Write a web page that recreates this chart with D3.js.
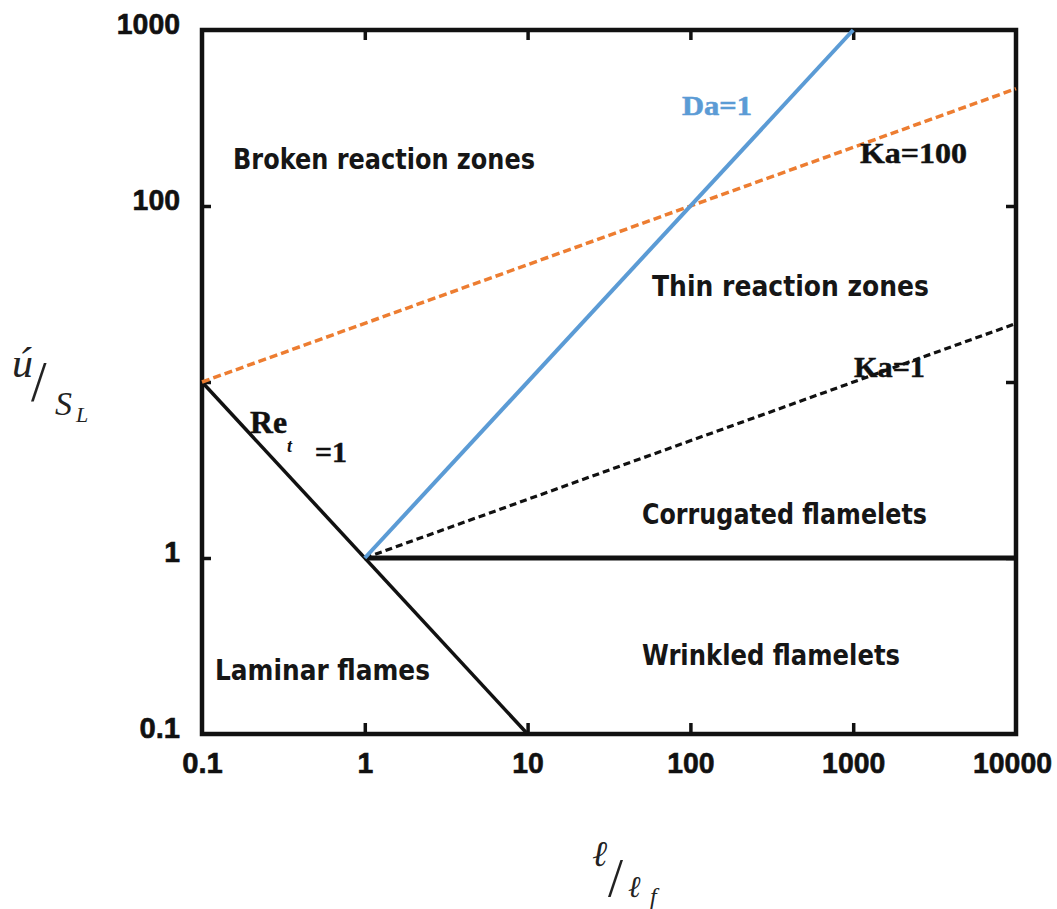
<!DOCTYPE html>
<html>
<head>
<meta charset="utf-8">
<script src="https://cdn.jsdelivr.net/npm/d3@7"></script>
<style>
  html, body { margin: 0; padding: 0; background: #fff; }
  svg { display: block; }
</style>
</head>
<body>
<div id="chart"></div>
<script>
// ---------- data ----------
const xTickValues = [0.1, 1, 10, 100, 1000, 10000];
const xTickLabels = ["0.1", "1", "10", "100", "1000", "10000"];
const yTickValues = [0.1, 1, 10, 100, 1000];
const yTickLabels = ["0.1", "1", "", "100", "1000"];

// boundary lines (l/lf, u'/SL)
const reLine   = { l: [0.1, 10],      u: [10, 0.1] };      // Re_t = 1
const daLine   = { l: [1, 1000],      u: [1, 1000] };      // Da = 1
const ka100Line= { l: [0.1, 10000],   u: [10, 464] };      // Ka = 100
const ka1Line  = { l: [1, 10000],     u: [1, 21.5] };      // Ka = 1
const unityLine= { l: [1, 10000],     u: [1, 1] };         // u'/SL = 1

const regionNames = ["Broken reaction zones", "Thin reaction zones", "Corrugated flamelets", "Wrinkled flamelets", "Laminar flames"];

// ---------- layout ----------
const W = 1057, H = 909;
const svg = d3.select("#chart").append("svg").attr("width", W).attr("height", H);

const x = d3.scaleLog().domain([0.1, 10000]).range([202, 1016]);
const y = d3.scaleLog().domain([0.1, 1000]).range([734, 30]);

const toPts = s => s.l.map((v, i) => [v, s.u[i]]);
const line = d3.line().x(d => x(d[0])).y(d => y(d[1]));

// glyph-width fitting for the condensed bold tick font
const digitW = 15.8, dotW = 9;
const fitW = s => s.split("").reduce((a, c) => a + (c === "." ? dotW : digitW), 0);

// axes (ticks inward)
const inner = [1, 10, 100, 1000];
const gB = svg.append("g").attr("transform", `translate(0,${y(0.1)})`)
  .call(d3.axisBottom(x).tickValues(xTickValues).tickSizeInner(-11).tickSizeOuter(0).tickPadding(18)
    .tickFormat((d, i) => xTickLabels[i]));
gB.selectAll(".tick").filter(d => d === 0.1 || d === 10000).select("line").remove();
const gT = svg.append("g").attr("transform", `translate(0,${y(1000)})`)
  .call(d3.axisTop(x).tickValues(inner).tickSizeInner(-10).tickSizeOuter(0).tickFormat(""));
const gL = svg.append("g").attr("transform", `translate(${x(0.1)},0)`)
  .call(d3.axisLeft(y).tickValues(yTickValues).tickSizeInner(-9).tickSizeOuter(0).tickPadding(22)
    .tickFormat((d, i) => yTickLabels[i]));
gL.selectAll(".tick").filter(d => d === 0.1 || d === 1000).select("line").remove();
const gR = svg.append("g").attr("transform", `translate(${x(10000)},0)`)
  .call(d3.axisRight(y).tickValues([1, 10, 100]).tickSizeInner(-10).tickSizeOuter(0).tickFormat(""));

[gB, gT, gL, gR].forEach(g => {
  g.select(".domain").remove();
  g.selectAll(".tick line").attr("stroke", "#111").attr("stroke-width", 3.5);
  g.selectAll("text").attr("font-family", "'Liberation Sans', Arial, sans-serif")
    .attr("font-weight", "bold").attr("font-size", 30).attr("fill", "#111")
    .attr("stroke", "#111").attr("stroke-width", 0.6)
    .each(function () {
      const s = this.textContent;
      if (s) d3.select(this).attr("textLength", fitW(s)).attr("lengthAdjust", "spacingAndGlyphs");
    });
});
gB.selectAll(".tick").filter(d => d === 10000).select("text").attr("x", -4);
gL.selectAll("text").attr("dy", "0.12em");

// frame
svg.append("rect").attr("x", x(0.1)).attr("y", y(1000))
  .attr("width", x(10000) - x(0.1)).attr("height", y(0.1) - y(1000))
  .attr("fill", "none").attr("stroke", "#111").attr("stroke-width", 4.5);

// lines
svg.append("path").attr("d", line(toPts(unityLine))).attr("fill", "none")
  .attr("stroke", "#111").attr("stroke-width", 5);
svg.append("path").attr("d", line(toPts(reLine))).attr("fill", "none")
  .attr("stroke", "#111").attr("stroke-width", 3.5);
svg.append("path").attr("d", line(toPts(ka1Line))).attr("fill", "none")
  .attr("stroke", "#111").attr("stroke-width", 3.2).attr("stroke-dasharray", "7,4");
svg.append("path").attr("d", line(toPts(ka100Line))).attr("fill", "none")
  .attr("stroke", "#ED7D31").attr("stroke-width", 3.5).attr("stroke-dasharray", "8,4");
svg.append("path").attr("d", line(toPts(daLine))).attr("fill", "none")
  .attr("stroke", "#5B9BD5").attr("stroke-width", 4);

// region labels
const regionLayout = [
  [233, 169, 302], [652, 296, 277], [642, 524, 285], [642, 665, 258], [215, 680, 215]
];
regionNames.forEach((t, i) => {
  const [px, py, w] = regionLayout[i];
  svg.append("text").attr("x", px).attr("y", py).text(t)
    .attr("font-family", "'DejaVu Sans', sans-serif").attr("font-weight", "bold")
    .attr("font-size", 29).attr("fill", "#161616")
    .attr("textLength", w).attr("lengthAdjust", "spacingAndGlyphs");
});

// line labels (serif bold)
const serif = "'Liberation Serif', 'Times New Roman', serif";
const lineLabels = [
  { t: "Da=1", x: 682, y: 115, w: 70, s: 27, c: "#5B9BD5" },
  { t: "Ka=100", x: 860, y: 163, w: 107, s: 30, c: "#111" },
  { t: "Ka=1", x: 854, y: 377, w: 71, s: 30, c: "#111" },
  { t: "Re", x: 250, y: 433, w: 37, s: 31, c: "#111" },
  { t: "=1", x: 315, y: 462, w: 32, s: 30, c: "#111" }
];
lineLabels.forEach(d => {
  svg.append("text").attr("x", d.x).attr("y", d.y).text(d.t)
    .attr("font-family", serif).attr("font-weight", "bold").attr("font-size", d.s)
    .attr("fill", d.c).attr("stroke", d.c).attr("stroke-width", 0.5)
    .attr("textLength", d.w).attr("lengthAdjust", "spacingAndGlyphs");
});
svg.append("text").attr("x", 287).attr("y", 452).text("t")
  .attr("font-family", serif).attr("font-style", "italic").attr("font-weight", "bold")
  .attr("font-size", 18).attr("fill", "#111");

// axis titles
const mathFont = "'DejaVu Serif', 'Liberation Serif', serif";
const yt = svg.append("g").attr("fill", "#222");
yt.append("text").attr("x", 12).attr("y", 377).text("ú")
  .attr("font-family", "'Liberation Serif', serif").attr("font-style", "italic").attr("font-size", 42);
yt.append("text").attr("x", 31).attr("y", 401).text("/")
  .attr("font-family", "'Liberation Serif', serif").attr("font-size", 56);
yt.append("text").attr("x", 55).attr("y", 415).text("S")
  .attr("font-family", "'Liberation Serif', serif").attr("font-style", "italic").attr("font-size", 34);
yt.append("text").attr("x", 76).attr("y", 422).text("L")
  .attr("font-family", "'Liberation Serif', serif").attr("font-style", "italic").attr("font-size", 22);

const xt = svg.append("g").attr("fill", "#222");
xt.append("text").attr("x", 592).attr("y", 866).text("ℓ")
  .attr("font-family", mathFont).attr("font-style", "italic").attr("font-size", 36);
xt.append("text").attr("x", 608).attr("y", 896).text("/")
  .attr("font-family", "'Liberation Serif', serif").attr("font-size", 54);
xt.append("text").attr("x", 628).attr("y", 897).text("ℓ")
  .attr("font-family", mathFont).attr("font-style", "italic").attr("font-size", 30);
xt.append("text").attr("x", 650).attr("y", 904).text("f")
  .attr("font-family", "'Liberation Serif', serif").attr("font-style", "italic").attr("font-size", 24);
</script>
</body>
</html>
